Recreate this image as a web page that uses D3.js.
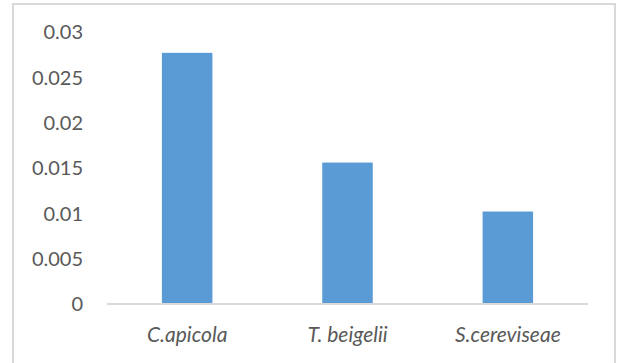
<!DOCTYPE html>
<html><head><meta charset="utf-8">
<script src="https://cdn.jsdelivr.net/npm/d3@7"></script>
<style>
html,body{margin:0;padding:0;background:#fff;}
svg{display:block;}
</style></head>
<body>
<script>
const categories = ["C.apicola", "T. beigelii", "S.cereviseae"];
const values = [0.0277, 0.0156, 0.0102];
const yTicks = [0, 0.005, 0.01, 0.015, 0.02, 0.025, 0.03];
const yTickLabels = ["0", "0.005", "0.01", "0.015", "0.02", "0.025", "0.03"];

const W = 617, H = 363;
const svg = d3.select("body").append("svg").attr("width", W).attr("height", H);

// chart border
svg.append("rect").attr("x", 13).attr("y", 4).attr("width", 602).attr("height", 364)
  .attr("fill", "#fff").attr("stroke", "#d9d9d9").attr("stroke-width", 2);

const x = d3.scaleBand().domain(categories).range([107, 588])
  .paddingInner(0.685).paddingOuter(0.3425);
const y = d3.scaleLinear().domain([0, 0.03]).range([304, 32]);

// bars
svg.selectAll("rect.bar").data(values).join("rect").attr("class", "bar")
  .attr("x", (d, i) => x(categories[i]))
  .attr("width", x.bandwidth())
  .attr("y", d => y(d))
  .attr("height", d => y(0) - y(d))
  .attr("fill", "#5b9bd5");

// x axis line
svg.append("line").attr("x1", 107).attr("x2", 588).attr("y1", y(0)).attr("y2", y(0))
  .attr("stroke", "#d9d9d9").attr("stroke-width", 2);

// y labels
svg.selectAll("text.yl").data(yTicks).join("text").attr("class", "yl")
  .attr("x", 83).attr("y", d => y(d)).attr("dy", "0.36em")
  .attr("text-anchor", "end")
  .attr("font-family", "Lato, 'Open Sans', sans-serif").attr("font-size", 20)
  .attr("fill", "#595959")
  .text((d, i) => yTickLabels[i]);

// x labels
svg.selectAll("text.xl").data(categories).join("text").attr("class", "xl")
  .attr("x", d => x(d) + x.bandwidth() / 2).attr("y", 342)
  .attr("text-anchor", "middle")
  .attr("font-family", "Lato, 'Open Sans', sans-serif").attr("font-size", 21)
  .attr("font-style", "italic")
  .attr("fill", "#595959")
  .text(d => d);
</script>
</body></html>
